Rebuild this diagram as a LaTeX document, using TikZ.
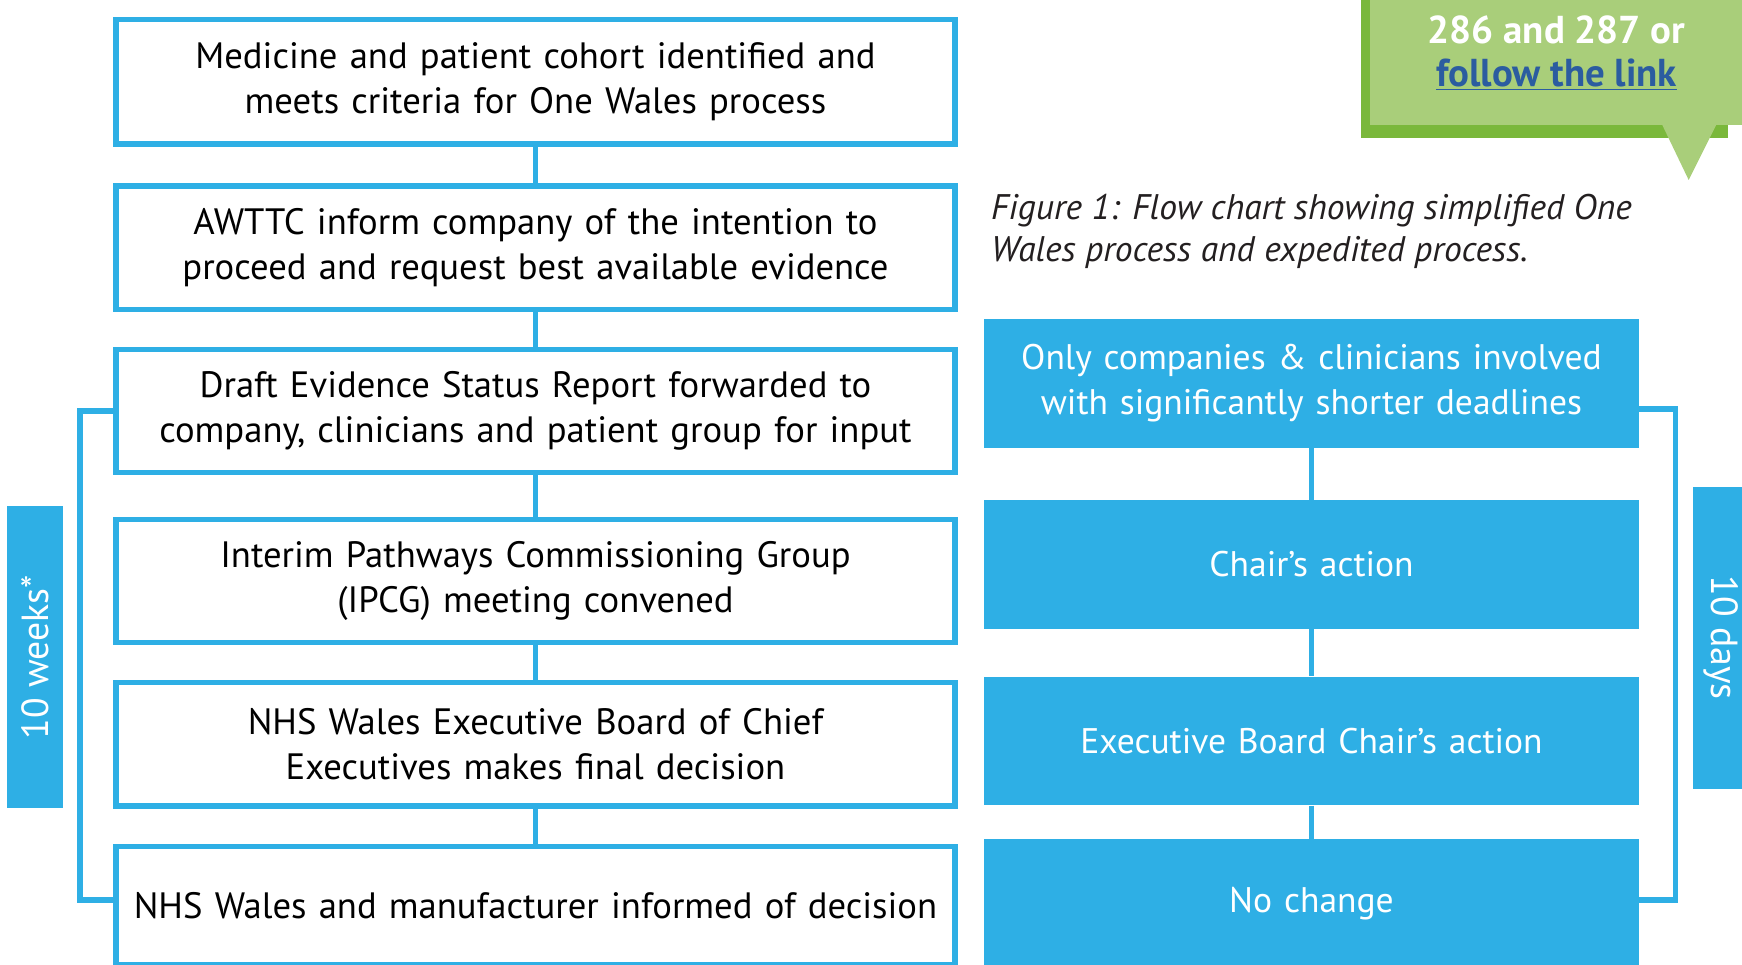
\documentclass[tikz,border=0pt]{standalone}
\usepackage{fontspec}
\setmainfont{PT Sans}
\definecolor{nhsblue}{RGB}{46,175,229}
\definecolor{gdark}{RGB}{122,184,59}
\definecolor{glight}{RGB}{169,206,122}
\definecolor{linkblue}{RGB}{43,92,160}
\definecolor{capgray}{RGB}{35,31,32}
\begin{document}
\begin{tikzpicture}[x=1pt,y=-1pt,
  boxfont/.style={font=\fontsize{33}{40.5}\selectfont},
  outbox/.style={draw=nhsblue,line width=5pt,fill=white,minimum width=755pt,
    text width=745pt,align=center,inner sep=0pt,text=black,boxfont},
  fillbox/.style={fill=nhsblue,minimum width=589pt,minimum height=116pt,
    text width=580pt,align=center,inner sep=0pt,text=white,
    font=\fontsize{32}{40.5}\selectfont},
  tagbox/.style={fill=nhsblue,minimum width=272pt,minimum height=51pt,
    inner sep=0pt,text=white,font=\fontsize{34}{40}\selectfont},
  link/.style={draw=nhsblue,line width=5pt},
]
\useasboundingbox (0,0) rectangle (1568,868.6);
\clip (0,0) rectangle (1568,868.6);

% left process
\node[outbox,minimum height=112pt] (b1) at (482,73.5) {Medicine and patient cohort identified and\\meets criteria for One Wales process};
\node[outbox,minimum height=111pt] (b2) at (482,223) {AWTTC inform company of the intention to\\proceed and request best available evidence};
\node[outbox,minimum height=111pt] (b3) at (482,370) {Draft Evidence Status Report forwarded to\\company, clinicians and patient group for input};
\node[outbox,minimum height=111pt] (b4) at (482,523) {Interim Pathways Commissioning Group\\(IPCG) meeting convened};
\node[outbox,minimum height=111pt] (b5) at (482,670) {NHS Wales Executive Board of Chief\\Executives makes final decision};
\node[outbox,minimum height=106pt] (b6) at (482,815) {NHS Wales and manufacturer informed of decision};
\draw[link] (b1.south) -- (b2.north);
\draw[link] (b2.south) -- (b3.north);
\draw[link] (b3.south) -- (b4.north);
\draw[link] (b4.south) -- (b5.north);
\draw[link] (b5.south) -- (b6.north);
\draw[link] (b3.west) -- ++(-30,0) |- ([yshift=5pt]b6.west);
\node[tagbox,rotate=90] (wk) at (31.5,591.5) {10 weeks*};

% right expedited process
\node[fillbox] (r1) at (1180.5,345) {Only companies \& clinicians involved\\with significantly shorter deadlines};
\node[fillbox] (r2) at (1180.5,508) {Chair’s action};
\node[fillbox] (r3) at (1180.5,667) {Executive Board Chair’s action};
\node[fillbox] (r4) at (1180.5,813) {No change};
\draw[link] (r1.south) -- (r2.north);
\draw[link] (r2.south) -- (r3.north);
\draw[link] (r3.south) -- (r4.north);
\draw[link] ([yshift=-23pt]r1.east) -- ++(33,0) |- ([yshift=3pt]r4.east);
\node[tagbox,rotate=-90] (dy) at (1549.5,574) {10 days};

% caption
\node[anchor=west,align=left,text=capgray,
  font=\itshape\fontsize{32}{38}\selectfont,inner sep=0pt] (cap) at (892,208)
  {Figure 1: Flow chart showing simplified One\\Wales process and expedited process.};

% green callout
\fill[gdark] (1225,-5) rectangle (1555,124);
\fill[glight] (1233,-5) rectangle (1580,112.5);
\fill[glight] (1496,112) -- (1545,112) -- (1520,162) -- cycle;
\node[text=white,font=\bfseries\fontsize{35}{40}\selectfont,inner sep=0pt] (c1) at (1401,27) {286 and 287 or};
\node[text=linkblue,font=\bfseries\fontsize{35}{40}\selectfont,inner sep=0pt] (c2) at (1401,67) {\underline{follow the link}};
\end{tikzpicture}
\end{document}
